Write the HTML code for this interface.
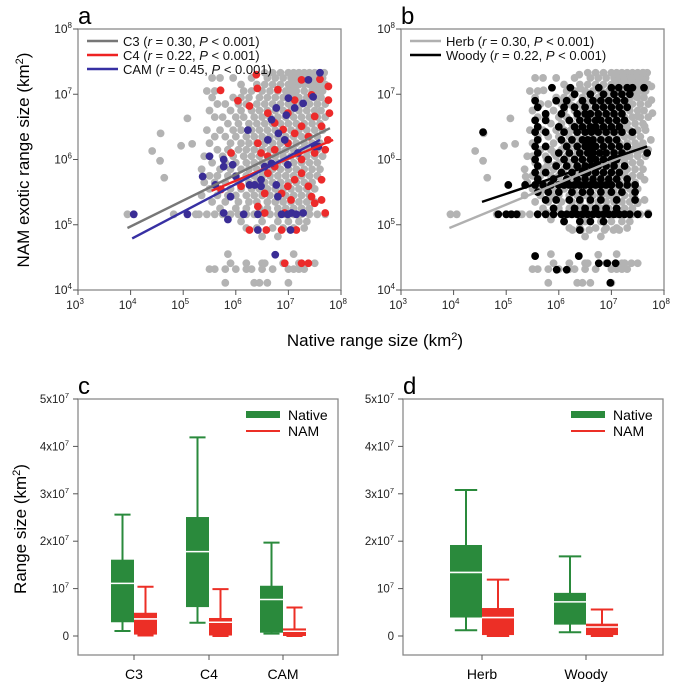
<!DOCTYPE html>
<html><head><meta charset="utf-8"><style>
body{margin:0;background:#fff}
svg{display:block;font-family:"Liberation Sans",Arial,sans-serif}
</style></head><body>
<svg id="fig" width="674" height="690" viewBox="0 0 674 690" xmlns="http://www.w3.org/2000/svg">
<g id="pa"></g>
<g id="pb"></g>
<g id="pc"></g>
<g id="pd"></g>
</svg>
<script>
// ---------- Scatter data (log10 values); rows "y: x x x" ----------
const c3Rows = [
"7.33:6.55 6.7 6.85 7.0 7.1 7.2 7.3 7.4 7.5 7.6 7.68",
"7.25:5.55 5.7 5.95 6.3 6.6 6.75 6.9 7.05 7.15 7.25 7.35 7.45 7.55 7.65",
"7.15:6.1 6.4 6.55 6.7 6.85 7.0 7.1 7.2 7.3 7.4 7.5 7.6 7.7",
"7.05:5.45 5.6 6.15 6.3 6.5 6.65 6.8 6.95 7.05 7.15 7.3 7.45 7.55 7.65",
"6.95:5.55 5.95 6.1 6.25 6.45 6.6 6.75 6.9 7.0 7.1 7.2 7.35 7.5 7.62",
"6.85:5.65 5.8 6.05 6.2 6.4 6.55 6.7 6.85 7.0 7.1 7.25 7.4 7.55 7.7",
"6.75:5.5 5.9 6.1 6.3 6.45 6.6 6.75 6.9 7.05 7.2 7.35 7.5 7.62",
"6.65:5.6 5.75 6.0 6.15 6.35 6.5 6.65 6.8 6.95 7.1 7.25 7.4 7.55 7.7",
"6.55:5.85 6.05 6.25 6.4 6.55 6.7 6.85 7.0 7.15 7.3 7.45 7.6",
"6.45:5.45 5.7 5.95 6.1 6.3 6.45 6.6 6.75 6.9 7.05 7.2 7.35 7.5 7.65",
"6.35:5.6 5.8 6.0 6.2 6.35 6.5 6.65 6.8 6.95 7.1 7.25 7.4 7.55",
"6.25:5.5 5.9 6.1 6.25 6.4 6.55 6.7 6.85 7.0 7.15 7.3 7.45 7.6",
"6.15:5.65 5.85 6.05 6.2 6.35 6.5 6.65 6.8 6.95 7.1 7.25 7.4 7.55",
"6.05:5.4 5.75 5.95 6.15 6.3 6.45 6.6 6.75 6.9 7.05 7.2 7.35 7.5 7.65",
"5.95:5.55 5.8 6.0 6.2 6.35 6.5 6.65 6.8 6.95 7.1 7.25 7.4 7.55",
"5.85:5.35 5.7 5.9 6.1 6.25 6.4 6.55 6.7 6.85 7.0 7.15 7.3 7.45 7.6",
"5.75:5.5 5.65 5.85 6.0 6.2 6.35 6.5 6.65 6.8 6.95 7.1 7.25 7.4 7.55",
"5.65:5.4 5.6 5.8 6.05 6.25 6.4 6.55 6.7 6.85 7.0 7.15 7.3 7.45",
"5.55:5.5 5.7 5.9 6.1 6.3 6.45 6.6 6.75 6.9 7.05 7.2 7.35 7.5",
"5.45:5.35 5.65 5.85 6.0 6.2 6.35 6.5 6.65 6.8 6.95 7.1 7.25 7.4",
"5.35:5.55 5.8 6.05 6.25 6.4 6.6 6.75 6.9 7.05 7.2 7.35 7.5",
"5.25:5.7 6.0 6.2 6.45 6.6 6.8 6.95 7.1 7.25 7.4",
"5.16:3.94 4.82 5.24 5.3 5.45 5.6 5.75 5.9 6.05 6.2 6.35 6.5 6.65 6.8 6.95 7.1 7.25 7.4 7.55 7.7",
"5.05:6.1 6.5 6.8 7.0 7.2 7.35",
"4.95:6.2 6.4 6.7 6.9 7.1 7.3",
"4.82:6.5 6.8",
"6.13:4.41", "6.4:4.57", "5.98:4.56", "5.72:4.64", "6.21:4.96", "6.63:5.08", "6.24:5.17",
"4.55:5.85 7.1",
"4.41:5.9 6.2 6.5 6.55 6.9 7.2 7.25 7.5",
"4.32:5.5 5.6 5.8 6.0 6.2 6.3 6.5 6.7 7.0 7.1 7.2 7.3",
"4.11:5.8 6.35 6.45 6.6 7.0"
];
const c4Pts = "5.71,7.06 6.41,7.09 6.04,6.9 6.26,6.82 6.61,6.71 7.25,7.22 7.6,7.23 7.76,6.91 7.78,6.71 7.44,6.99 7.12,6.91 6.99,6.71 7.5,6.66 6.74,6.56 6.42,6.25 5.91,6.1 5.72,5.54 6.48,6.1 6.61,6.05 6.74,5.89 6.99,6.25 7.12,6.4 7.25,6.51 7.38,6.35 7.63,6.51 7.5,6.1 7.7,6.15 6.87,5.48 6.99,5.59 7.12,5.69 7.25,5.79 7.38,5.59 7.44,5.43 7.5,5.33 7.63,5.69 6.55,5.48 6.42,5.28 6.55,5.18 6.93,5.18 7.7,5.18 6.26,4.92 6.58,4.92 6.87,4.92 7.15,4.92 6.93,4.41 7.25,4.41 7.38,4.41 6.39,7.3 6.74,6.15 7.25,6.0 7.05,5.38 7.63,5.38 7.76,7.12 6.8,7.07 7.75,6.3 6.1,5.59 6.61,5.79 6.9,6.46";
const camPts = "4.06,5.16 5.08,5.16 5.37,5.74 5.5,6.05 5.61,5.61 5.77,6.0 5.77,5.89 5.77,5.18 5.85,5.08 5.9,5.43 5.94,5.92 6.0,5.74 6.15,5.16 6.23,6.45 6.26,5.61 6.36,5.61 6.42,4.92 6.42,5.16 6.48,5.69 6.61,6.3 6.68,5.94 6.77,6.79 6.8,5.43 6.81,6.4 6.77,5.61 6.87,5.16 6.96,6.68 6.99,5.92 7.0,6.94 7.06,5.18 7.12,6.79 7.18,6.1 7.28,6.86 7.38,7.22 7.47,6.96 7.57,6.2 7.6,7.33 7.28,5.18 7.15,5.16 6.99,5.16 6.75,4.54 7.04,4.92 6.93,6.3 6.48,5.59 6.55,5.89 6.68,6.61 7.5,6.2";
const woodyRows = [
"7.1:5.87 6.22 6.76 7.0 7.14 7.3 7.4 7.62",
"7.0:6.3 6.6 6.85 7.05 7.2 7.35",
"6.9:5.55 5.95 6.15 6.45 6.65 6.8 6.95 7.1 7.25",
"6.8:5.6 6.1 6.3 6.5 6.7 6.85 7.0 7.15 7.3",
"6.7:5.75 6.05 6.35 6.5 6.6 6.75 6.9 7.05 7.2",
"6.6:5.55 5.75 6.2 6.4 6.55 6.7 6.8 6.95 7.1 7.25",
"6.5:5.6 6.0 6.3 6.45 6.6 6.7 6.85 7.0 7.15",
"6.42:4.56 5.55 5.75 6.1 6.35 6.5 6.62 6.75 6.9 7.05 7.2 7.4",
"6.3:5.6 6.05 6.25 6.45 6.55 6.65 6.8 6.95 7.1",
"6.2:5.55 5.75 6.15 6.35 6.5 6.6 6.7 6.85 7.0 7.15 7.3",
"6.1:5.6 6.0 6.2 6.4 6.55 6.65 6.78 6.9 7.05 7.2 7.68",
"6.0:5.55 5.8 6.1 6.3 6.45 6.6 6.7 6.85 7.0 7.1",
"5.9:5.6 5.95 6.15 6.35 6.5 6.62 6.75 6.9 7.05 7.25",
"5.8:5.55 5.75 6.05 6.25 6.45 6.55 6.7 6.85 7.0 7.15",
"5.7:5.6 5.9 6.15 6.35 6.5 6.65 6.8 6.95 7.1 7.3",
"5.61:5.04 5.36 5.55 5.7 5.85 6.0 6.1 6.2 6.3 6.4 6.5 6.6 6.7 6.8 6.9 7.0 7.15 7.3 7.45",
"5.5:5.6 5.8 6.0 6.25 6.45 6.6 6.8 7.0 7.2 7.45",
"5.38:5.75 5.95 6.2 6.4 6.6 6.8 7.1 7.45",
"5.25:5.9 6.3 6.5 6.7 6.9 7.1",
"5.16:4.85 5.0 5.1 5.2 5.6 5.75 5.9 6.05 6.15 6.25 6.35 6.45 6.55 6.65 6.75 6.85 6.95 7.05 7.15 7.25 7.35 7.5 7.7",
"5.05:6.1 6.4 6.6 6.85",
"4.92:6.4",
"4.52:5.55 6.38",
"4.41:6.76 6.92 7.08",
"4.31:5.96 6.15",
"4.11:6.98"
];
// regression lines [x0,y0,x1,y1] in log10
const lineC3 = [3.94, 4.95, 7.79, 6.48];
const lineC4 = [5.54, 5.52, 7.85, 6.30];
const lineCAM = [4.03, 4.79, 7.6, 6.30];
const lineHerb = [3.92, 4.95, 7.68, 6.20];
const lineWoody = [4.54, 5.35, 7.68, 6.20];
const xLogTicks = [3, 4, 5, 6, 7, 8];
const yLogTicks = [4, 5, 6, 7, 8];

// ---------- Box data (units of 1e7): [low, q1, median, q3, high] ----------
const pathwayCats = ["C3", "C4", "CAM"];
const pathwayNative = [[0.105,0.29,1.11,1.61,2.56],[0.28,0.61,1.78,2.51,4.19],[0.05,0.07,0.77,1.06,1.97]];
const pathwayNAM = [[0.01,0.03,0.36,0.49,1.04],[0,0.01,0.29,0.38,0.99],[0,0,0.1,0.16,0.60]];
const formCats = ["Herb", "Woody"];
const formNative = [[0.12,0.39,1.34,1.92,3.08],[0.08,0.24,0.72,0.91,1.68]];
const formNAM = [[0,0.02,0.39,0.59,1.19],[0,0.02,0.19,0.26,0.56]];
const boxTicks = [0, 1, 2, 3, 4, 5];
const boxTickLabels = ["0", "10", "2x10", "3x10", "4x10", "5x10"];

const NS = "http://www.w3.org/2000/svg";
function mk(parent, tag, attrs, text) {
  const e = document.createElementNS(NS, tag);
  for (const k in attrs) e.setAttribute(k, attrs[k]);
  if (text !== undefined) e.textContent = text;
  parent.appendChild(e);
  return e;
}
function parseRows(rows) {
  const out = [];
  rows.forEach(r => { const [y, xs] = r.split(":"); xs.trim().split(/\s+/).forEach(x => out.push([+x, +y])); });
  return out;
}
function parsePts(s) { return s.trim().split(/\s+/).map(p => p.split(",").map(Number)); }

const c3 = parseRows(c3Rows), c4 = parsePts(c4Pts), cam = parsePts(camPts), woody = parseRows(woodyRows);
const allPts = c3.concat(c4, cam);

function scatterPanel(g, left, letter, layers, lines, legend) {
  const right = left + 263, top = 29, bottom = 290;
  const X = v => left + (v - 3) * (right - left) / 5;
  const Y = v => bottom - (v - 4) * (bottom - top) / 4;
  const fr = mk(g, "rect", {x:left, y:top, width:right-left, height:bottom-top, fill:"none", stroke:"#8a8a8a", "stroke-width":1.3});
  
  
  const lt = mk(g, "text", {x:left, y:top-5, "font-size":24}, letter);
  
  
  xLogTicks.forEach(t => {
    const tx = mk(g, "line", {x1:X(t), x2:X(t), y1:bottom, y2:bottom+5, stroke:"#555"});
    
    
    const xl = mk(g, "text", {x:X(t)-3, y:bottom+19, "font-size":12, "text-anchor":"middle", fill:"#222"});
    
    
    mk(xl, "tspan", {}, "10");
    mk(xl, "tspan", {dy:-5, "font-size":8}, String(t));
  });
  yLogTicks.forEach(t => {
    const ty = mk(g, "line", {x1:left-5, x2:left, y1:Y(t), y2:Y(t), stroke:"#555"});
    
    
    const yl = mk(g, "text", {x:left-6, y:Y(t)+4, "font-size":12, "text-anchor":"end", fill:"#222"});
    
    
    mk(yl, "tspan", {}, "10");
    mk(yl, "tspan", {dy:-5, "font-size":8}, String(t));
  });
  layers.forEach(([pts, col, name]) => {
    const lg = mk(g, "g", {fill:col});
    
    
    pts.forEach(p => {
      const c = mk(lg, "circle", {cx:X(p[0]), cy:Y(p[1]), r:3.9});
      
      
    });
  });
  lines.forEach(([l, col, name]) => {
    const e = mk(g, "line", {x1:X(l[0]), y1:Y(l[1]), x2:X(l[2]), y2:Y(l[3]), stroke:col, "stroke-width":2.4});
    
    
  });
  legend.forEach(([col, label, rv], i) => {
    const y = 41 + i * 14;
    const lg = mk(g, "g", {});
    
    
    mk(lg, "line", {x1:left+9, x2:left+40, y1:y, y2:y, stroke:col, "stroke-width":2.4});
    const t = mk(lg, "text", {x:left+45, y:y+5, "font-size":13, fill:"#111"});
    mk(t, "tspan", {}, label + " (");
    mk(t, "tspan", {"font-style":"italic"}, "r");
    mk(t, "tspan", {}, " = " + rv + ", ");
    mk(t, "tspan", {"font-style":"italic"}, "P");
    mk(t, "tspan", {}, " < 0.001)");
  });
}

scatterPanel(document.getElementById("pa"), 78, "a",
  [[c3, "#b3b3b3", "c3-points"], [c4, "#ec2b2b", "c4-points"], [cam, "#3a2d95", "cam-points"]],
  [[lineC3, "#777777", "c3-regression-line"], [lineC4, "#ee2222", "c4-regression-line"], [lineCAM, "#3730a3", "cam-regression-line"]],
  [["#777777", "C3", "0.30"], ["#ee2222", "C4", "0.22"], ["#3730a3", "CAM", "0.45"]]);
scatterPanel(document.getElementById("pb"), 401, "b",
  [[allPts, "#b3b3b3", "herb-points"], [woody, "#000000", "woody-points"]],
  [[lineHerb, "#b0b0b0", "herb-regression-line"], [lineWoody, "#000000", "woody-regression-line"]],
  [["#b0b0b0", "Herb", "0.30"], ["#000000", "Woody", "0.22"]]);

const fig = document.getElementById("fig");
const yt = mk(fig, "text", {x:0, y:0, "font-size":17, "text-anchor":"middle", transform:"translate(29,160) rotate(-90)"});


mk(yt, "tspan", {}, "NAM exotic range size (km");
mk(yt, "tspan", {dy:-6, "font-size":11}, "2");
mk(yt, "tspan", {dy:6}, ")");
const xt = mk(fig, "text", {x:375, y:346, "font-size":17, "text-anchor":"middle"});


mk(xt, "tspan", {}, "Native range size (km");
mk(xt, "tspan", {dy:-6, "font-size":11}, "2");
mk(xt, "tspan", {dy:6}, ")");
const yt2 = mk(fig, "text", {x:0, y:0, "font-size":17, "text-anchor":"middle", transform:"translate(26,529) rotate(-90)"});


mk(yt2, "tspan", {}, "Range size (km");
mk(yt2, "tspan", {dy:-6, "font-size":11}, "2");
mk(yt2, "tspan", {dy:6}, ")");

function boxPanel(g, left, right, letter, cats, catX, natives, nams, bw) {
  const top = 399, bottom = 655, zero = 636, per = 47.4;
  const Y = v => zero - v * per;
  const fr = mk(g, "rect", {x:left, y:top, width:right-left, height:bottom-top, fill:"none", stroke:"#8a8a8a", "stroke-width":1.3});
  
  
  const lt = mk(g, "text", {x:left, y:top-5, "font-size":24}, letter);
  
  
  boxTicks.forEach((t, i) => {
    const tk = mk(g, "line", {x1:left-5, x2:left, y1:Y(t), y2:Y(t), stroke:"#555"});
    
    
    const tl = mk(g, "text", {x:left-9, y:Y(t)+4, "font-size":11.5, "text-anchor":"end", fill:"#222"});
    
    
    mk(tl, "tspan", {}, boxTickLabels[i]);
    if (t > 0) mk(tl, "tspan", {dy:-5, "font-size":7.5}, "7");
  });
  cats.forEach((c, i) => {
    const cx = catX[i];
    const tk = mk(g, "line", {x1:cx, x2:cx, y1:bottom, y2:bottom+5, stroke:"#555"});
    
    
    const cl = mk(g, "text", {x:cx, y:bottom+24, "font-size":14, "text-anchor":"middle"}, c);
    
    
    [[natives[i], cx - bw / 2, "#2a8a3c", "native-box"], [nams[i], cx + bw / 2, "#ec2f26", "nam-box"]].forEach(([s, bx, col, name]) => {
      const bg = mk(g, "g", {});
      
      
      const cap = bw * 0.35;
      mk(bg, "line", {x1:bx, x2:bx, y1:Y(s[0]), y2:Y(s[4]), stroke:col, "stroke-width":2});
      mk(bg, "line", {x1:bx-cap, x2:bx+cap, y1:Y(s[4]), y2:Y(s[4]), stroke:col, "stroke-width":2});
      mk(bg, "line", {x1:bx-cap, x2:bx+cap, y1:Y(s[0]), y2:Y(s[0]), stroke:col, "stroke-width":2});
      mk(bg, "rect", {x:bx-bw/2, y:Y(s[3]), width:bw, height:Math.max(1, Y(s[1])-Y(s[3])), fill:col});
      mk(bg, "line", {x1:bx-bw/2, x2:bx+bw/2, y1:Y(s[2]), y2:Y(s[2]), stroke:"#fff", "stroke-width":1.6});
    });
  });
  const lg = mk(g, "g", {});
  
  
  const lx = right - 92;
  mk(lg, "rect", {x:lx, y:411, width:34, height:7, fill:"#2a8a3c"});
  mk(lg, "text", {x:lx+42, y:420, "font-size":14}, "Native");
  mk(lg, "line", {x1:lx, x2:lx+34, y1:431, y2:431, stroke:"#ec2f26", "stroke-width":2});
  mk(lg, "text", {x:lx+42, y:436, "font-size":14}, "NAM");
}
boxPanel(document.getElementById("pc"), 78, 338, "c", pathwayCats, [134, 209, 283], pathwayNative, pathwayNAM, 23);
boxPanel(document.getElementById("pd"), 403, 663, "d", formCats, [482, 586], formNative, formNAM, 32);
</script>
</body></html>
